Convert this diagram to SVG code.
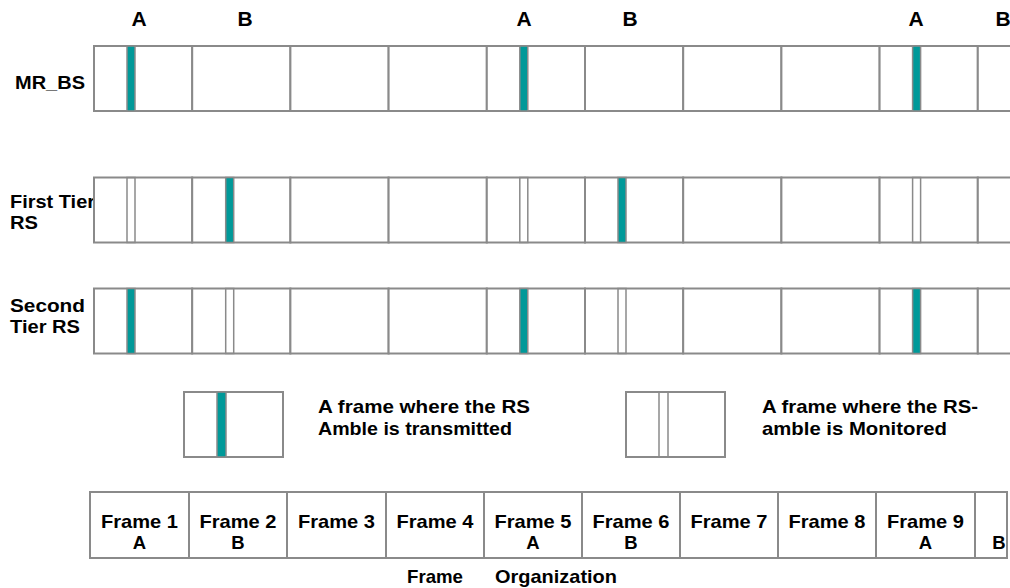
<svg xmlns="http://www.w3.org/2000/svg" xmlns:xlink="http://www.w3.org/1999/xlink" width="1010" height="588" viewBox="0 0 1010 588">
  <style>
    .cell { fill: #ffffff; stroke: #8a8a8a; stroke-width: 2; }
    .amble { fill: #009999; stroke: #8a8a8a; stroke-width: 1.5; }
    .mon { fill: none; stroke: #8a8a8a; stroke-width: 1.5; }
    text { font-family: "Liberation Sans", Arial, sans-serif; font-weight: bold; fill: #000000; }
    .big { font-size: 21px; text-anchor: middle; }
    .lbl { font-size: 18.5px; }
    .mid { text-anchor: middle; }
  </style>
  <defs>
    <!-- one frame slot of a timeline row -->
    <rect id="slot" class="cell" width="98.2" height="65"/>
    <!-- RS-amble transmitted (solid teal strip) -->
    <rect id="tx" class="amble" width="8" height="65"/>
    <!-- RS-amble monitored (empty strip) -->
    <rect id="rx" class="mon" width="8" height="65"/>
  </defs>

  <!-- A / B markers above the timelines -->
  <g id="markers">
    <text class="big" x="139" y="26">A</text>
    <text class="big" x="245" y="26">B</text>
    <text class="big" x="524" y="26">A</text>
    <text class="big" x="630" y="26">B</text>
    <text class="big" x="916" y="26">A</text>
    <text class="big" x="1003" y="26">B</text>
  </g>

  <!-- MR_BS timeline -->
  <g id="mr-bs">
    <text class="lbl" x="15" y="89" textLength="70" lengthAdjust="spacingAndGlyphs">MR_BS</text>
    <g transform="translate(94,46)">
      <use xlink:href="#slot" x="0"/>
      <use xlink:href="#slot" x="98.2"/>
      <use xlink:href="#slot" x="196.4"/>
      <use xlink:href="#slot" x="294.6"/>
      <use xlink:href="#slot" x="392.8"/>
      <use xlink:href="#slot" x="491"/>
      <use xlink:href="#slot" x="589.2"/>
      <use xlink:href="#slot" x="687.4"/>
      <use xlink:href="#slot" x="785.6"/>
      <use xlink:href="#slot" x="883.8"/>
      <use xlink:href="#tx" x="33"/>
      <use xlink:href="#tx" x="425.8"/>
      <use xlink:href="#tx" x="818.6"/>
    </g>
  </g>

  <!-- First tier RS timeline -->
  <g id="first-tier">
    <text class="lbl" x="10" y="208" textLength="85" lengthAdjust="spacingAndGlyphs">First Tier</text>
    <text class="lbl" x="10" y="229" textLength="28" lengthAdjust="spacingAndGlyphs">RS</text>
    <g transform="translate(94,177.5)">
      <use xlink:href="#slot" x="0"/>
      <use xlink:href="#slot" x="98.2"/>
      <use xlink:href="#slot" x="196.4"/>
      <use xlink:href="#slot" x="294.6"/>
      <use xlink:href="#slot" x="392.8"/>
      <use xlink:href="#slot" x="491"/>
      <use xlink:href="#slot" x="589.2"/>
      <use xlink:href="#slot" x="687.4"/>
      <use xlink:href="#slot" x="785.6"/>
      <use xlink:href="#slot" x="883.8"/>
      <use xlink:href="#rx" x="33"/>
      <use xlink:href="#tx" x="131.7"/>
      <use xlink:href="#rx" x="425.8"/>
      <use xlink:href="#tx" x="524"/>
      <use xlink:href="#rx" x="818.6"/>
    </g>
  </g>

  <!-- Second tier RS timeline -->
  <g id="second-tier">
    <text class="lbl" x="10" y="312" textLength="75" lengthAdjust="spacingAndGlyphs">Second</text>
    <text class="lbl" x="10" y="333" textLength="70" lengthAdjust="spacingAndGlyphs">Tier RS</text>
    <g transform="translate(94,288.5)">
      <use xlink:href="#slot" x="0"/>
      <use xlink:href="#slot" x="98.2"/>
      <use xlink:href="#slot" x="196.4"/>
      <use xlink:href="#slot" x="294.6"/>
      <use xlink:href="#slot" x="392.8"/>
      <use xlink:href="#slot" x="491"/>
      <use xlink:href="#slot" x="589.2"/>
      <use xlink:href="#slot" x="687.4"/>
      <use xlink:href="#slot" x="785.6"/>
      <use xlink:href="#slot" x="883.8"/>
      <use xlink:href="#tx" x="33"/>
      <use xlink:href="#rx" x="131.7"/>
      <use xlink:href="#tx" x="425.8"/>
      <use xlink:href="#rx" x="524"/>
      <use xlink:href="#tx" x="818.6"/>
    </g>
  </g>

  <!-- Legend: transmitted -->
  <g id="legend-tx">
    <rect class="cell" x="184" y="392" width="99" height="65"/>
    <rect class="amble" x="217" y="392" width="9" height="65"/>
    <text class="lbl" x="318" y="413" textLength="212" lengthAdjust="spacingAndGlyphs">A frame where the RS</text>
    <text class="lbl" x="318" y="435" textLength="194" lengthAdjust="spacingAndGlyphs">Amble is transmitted</text>
  </g>

  <!-- Legend: monitored -->
  <g id="legend-rx">
    <rect class="cell" x="626" y="392" width="99" height="65"/>
    <rect class="mon" x="659" y="392" width="9" height="65"/>
    <text class="lbl" x="762" y="413" textLength="216" lengthAdjust="spacingAndGlyphs">A frame where the RS-</text>
    <text class="lbl" x="762" y="435" textLength="185" lengthAdjust="spacingAndGlyphs">amble is Monitored</text>
  </g>

  <!-- Frame organization table -->
  <g id="frame-table">
    <rect class="cell" x="90" y="492" width="99" height="66"/>
    <rect class="cell" x="189" y="492" width="98" height="66"/>
    <rect class="cell" x="287" y="492" width="99" height="66"/>
    <rect class="cell" x="386" y="492" width="98" height="66"/>
    <rect class="cell" x="484" y="492" width="98" height="66"/>
    <rect class="cell" x="582" y="492" width="98" height="66"/>
    <rect class="cell" x="680" y="492" width="98" height="66"/>
    <rect class="cell" x="778" y="492" width="98" height="66"/>
    <rect class="cell" x="876" y="492" width="99" height="66"/>
    <rect class="cell" x="975" y="492" width="32" height="66"/>

    <text class="lbl mid" x="139.5" y="528" textLength="77" lengthAdjust="spacingAndGlyphs">Frame 1</text>
    <text class="lbl mid" x="238" y="528" textLength="77" lengthAdjust="spacingAndGlyphs">Frame 2</text>
    <text class="lbl mid" x="336.5" y="528" textLength="77" lengthAdjust="spacingAndGlyphs">Frame 3</text>
    <text class="lbl mid" x="435" y="528" textLength="77" lengthAdjust="spacingAndGlyphs">Frame 4</text>
    <text class="lbl mid" x="533" y="528" textLength="77" lengthAdjust="spacingAndGlyphs">Frame 5</text>
    <text class="lbl mid" x="631" y="528" textLength="77" lengthAdjust="spacingAndGlyphs">Frame 6</text>
    <text class="lbl mid" x="729" y="528" textLength="77" lengthAdjust="spacingAndGlyphs">Frame 7</text>
    <text class="lbl mid" x="827" y="528" textLength="77" lengthAdjust="spacingAndGlyphs">Frame 8</text>
    <text class="lbl mid" x="925.5" y="528" textLength="77" lengthAdjust="spacingAndGlyphs">Frame 9</text>

    <text class="lbl mid" x="139.5" y="549">A</text>
    <text class="lbl mid" x="238" y="549">B</text>
    <text class="lbl mid" x="533" y="549">A</text>
    <text class="lbl mid" x="631" y="549">B</text>
    <text class="lbl mid" x="925.5" y="549">A</text>
    <text class="lbl mid" x="999" y="549">B</text>

    <text class="lbl" y="583"><tspan x="407" textLength="56" lengthAdjust="spacingAndGlyphs">Frame</tspan><tspan x="495" textLength="122" lengthAdjust="spacingAndGlyphs">Organization</tspan></text>
  </g>
</svg>
